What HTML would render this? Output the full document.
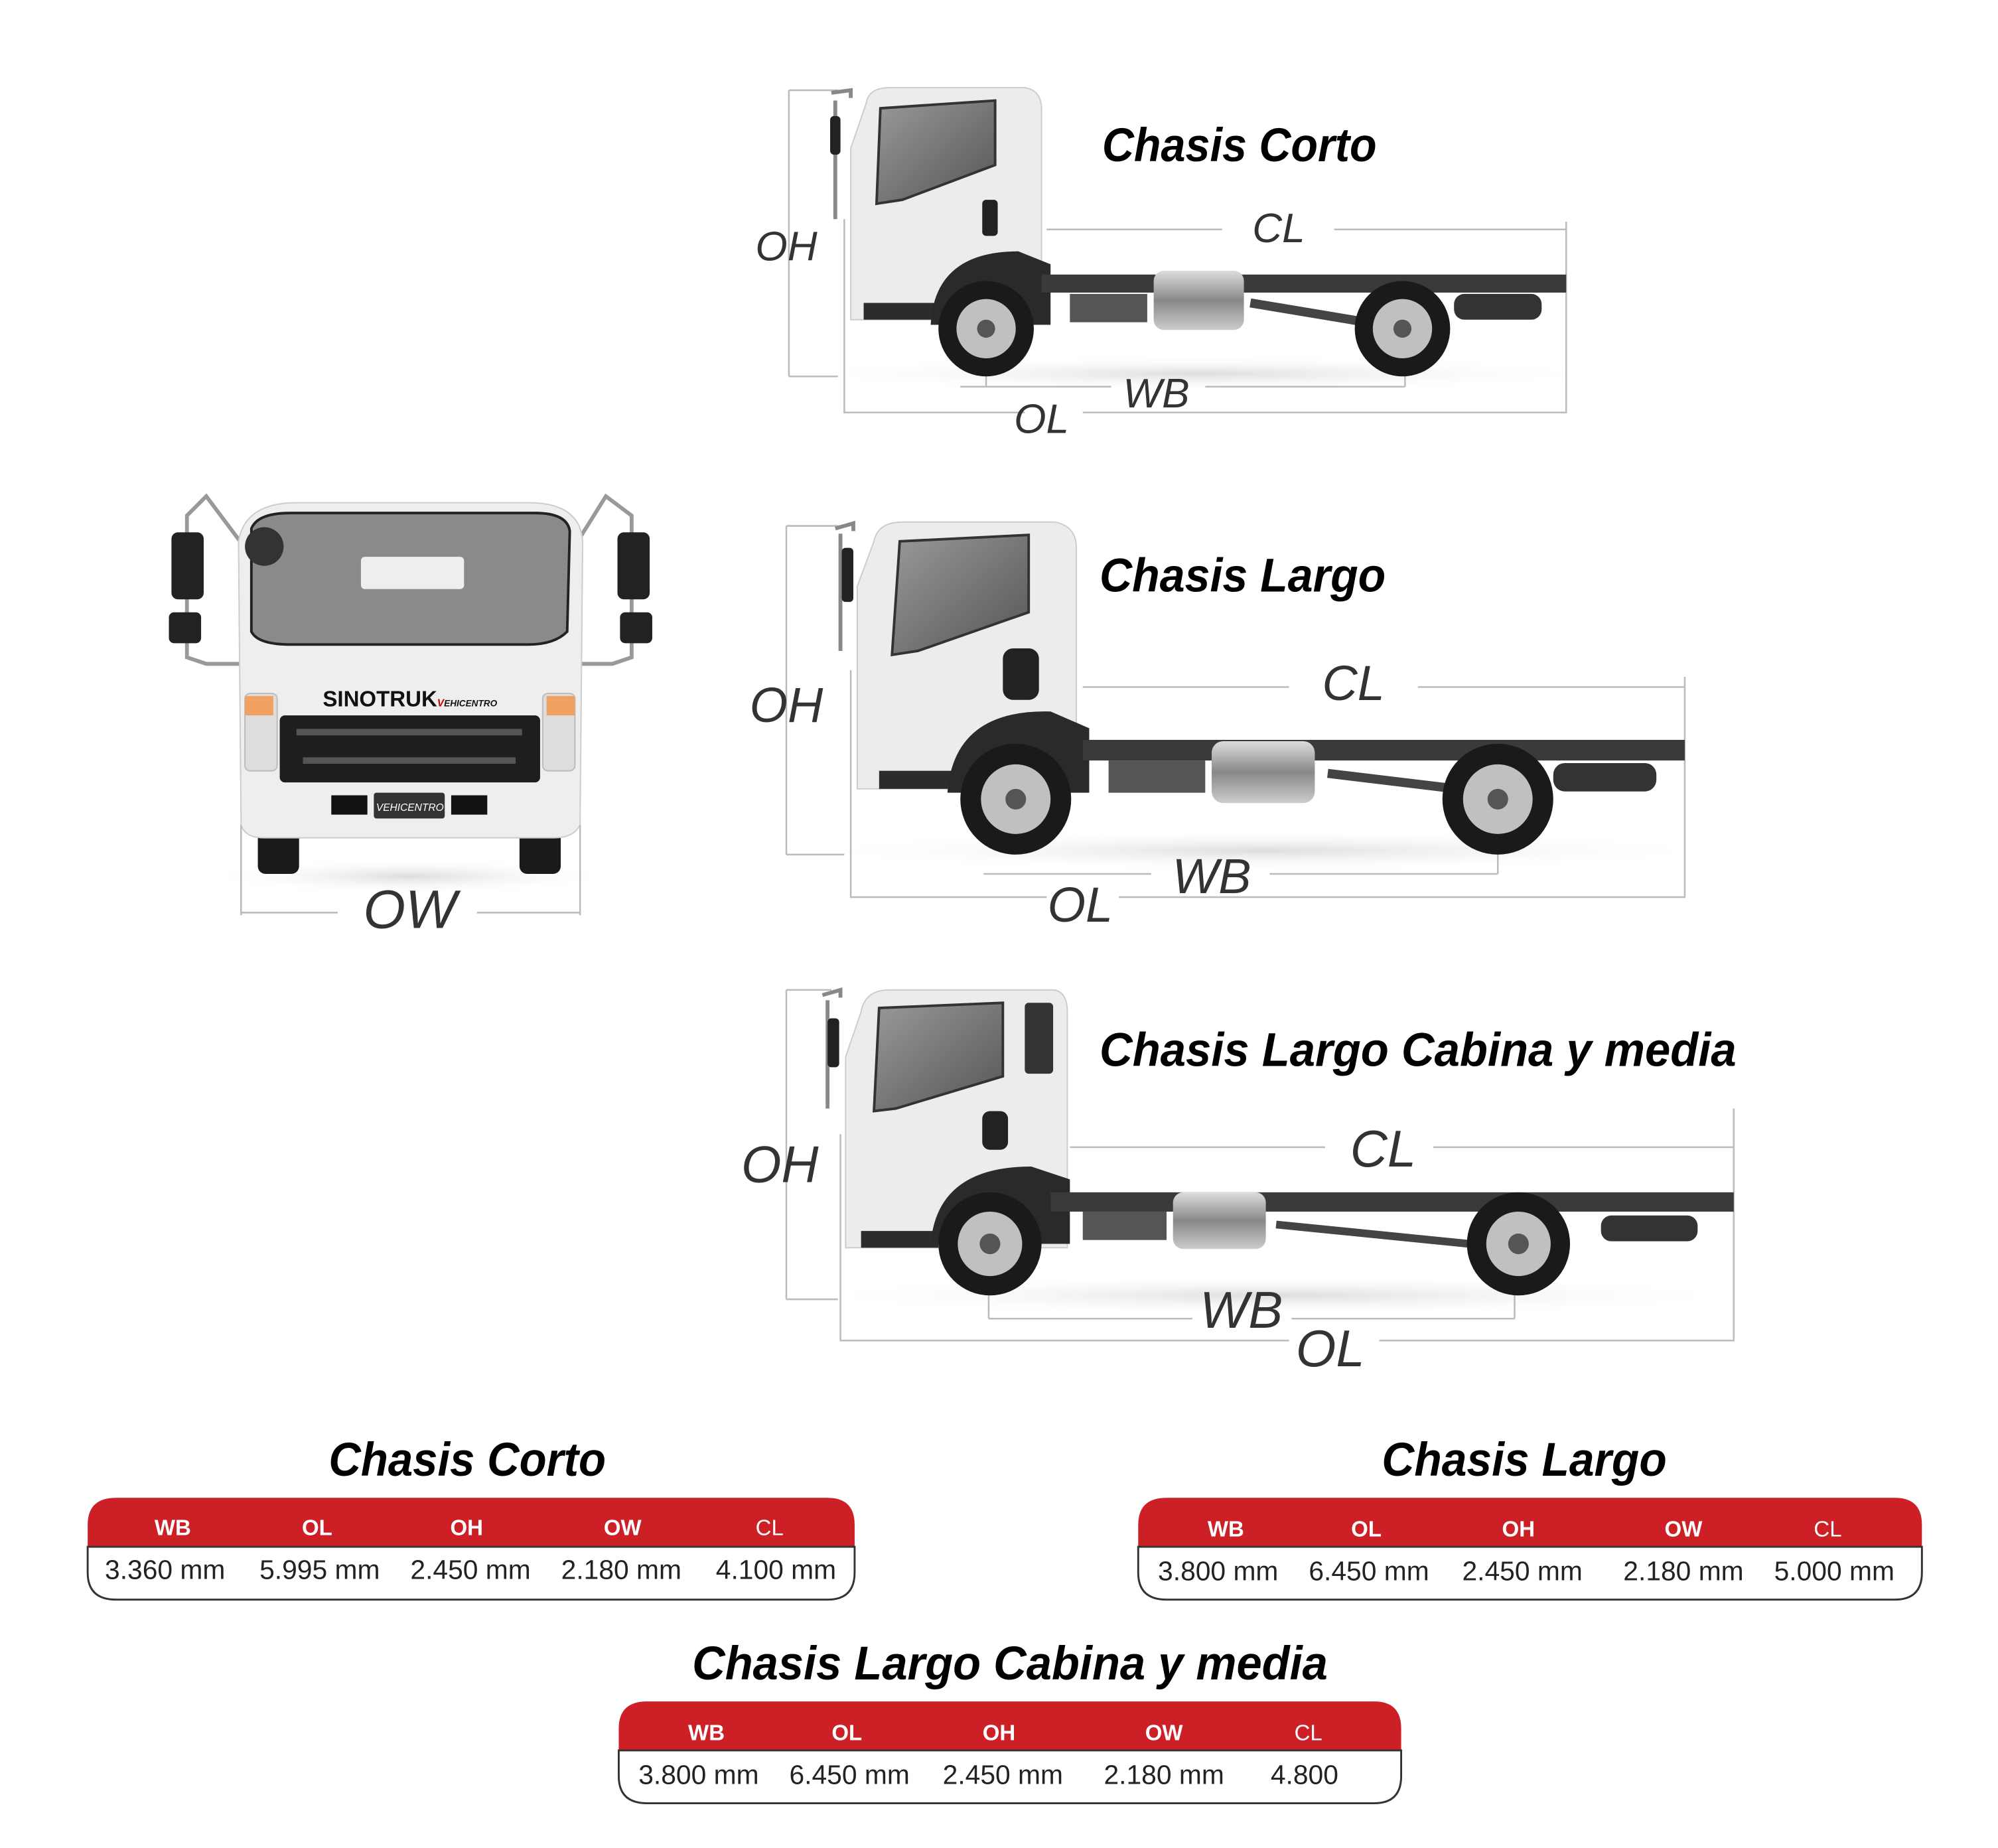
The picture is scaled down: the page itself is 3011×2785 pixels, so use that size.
<!DOCTYPE html>
<html><head><meta charset="utf-8"><style>
html,body{margin:0;padding:0;background:#fff}
svg{display:block}
.t{font-family:"Liberation Sans",sans-serif;font-weight:bold;font-style:italic;fill:#000}
.d{font-family:"Liberation Sans",sans-serif;font-style:italic;fill:#333}
.h{font-family:"Liberation Sans",sans-serif;font-weight:bold;fill:#fff;font-size:17px}
.v{font-family:"Liberation Sans",sans-serif;fill:#222;font-size:21px}
.ln{stroke:#bbb;stroke-width:1.3;fill:none}
</style></head><body>
<svg width="3011" height="2785" viewBox="0 0 1550 1433.7" xmlns="http://www.w3.org/2000/svg">
<defs>
<linearGradient id="win" x1="0" y1="0" x2="1" y2="1"><stop offset="0" stop-color="#999"/><stop offset="1" stop-color="#555"/></linearGradient>
<linearGradient id="tank" x1="0" y1="0" x2="0" y2="1"><stop offset="0" stop-color="#ddd"/><stop offset=".5" stop-color="#888"/><stop offset="1" stop-color="#ccc"/></linearGradient>
<radialGradient id="sh"><stop offset="0" stop-color="#ddd"/><stop offset="1" stop-color="#fff" stop-opacity="0"/></radialGradient>
</defs>

<!-- ===== Truck 1: Chasis Corto ===== -->
<ellipse cx="930" cy="290" rx="320" ry="14" fill="url(#sh)"/>
<path class="ln" d="M612,70 V292 M612,70 H650 M612,292 H650"/>
<path class="ln" d="M655,170 V320 H795 M840,320 H1215 V172"/>
<path class="ln" d="M812,178 H948 M1035,178 H1215"/>
<path class="ln" d="M745,300 H862 M935,300 H1090 M765,285 V300 M1090,285 V300"/>
<path d="M645,72 L660,70 L660,76 M648,78 V170" stroke="#888" stroke-width="3" fill="none"/>
<rect x="644" y="90" width="8" height="30" rx="3" fill="#222"/>
<path d="M660,115 L672,80 Q674,68 690,68 L795,68 Q808,70 808,85 L808,248 L660,248 Z" fill="#ececec" stroke="#ccc"/>
<path d="M683,84 L772,78 L772,128 L700,155 L680,158 Z" fill="url(#win)" stroke="#333" stroke-width="2"/>
<rect x="762" y="155" width="12" height="28" rx="3" fill="#222"/>
<rect x="670" y="235" width="60" height="13" fill="#2c2c2c"/>
<path d="M722,252 Q725,195 790,195 L815,205 L815,252 Z" fill="#2a2a2a"/>
<rect x="808" y="213" width="407" height="14" fill="#3a3a3a"/>
<rect x="1128" y="228" width="68" height="20" rx="8" fill="#333"/>
<path d="M970,235 L1060,250" stroke="#444" stroke-width="7"/>
<rect x="895" y="210" width="70" height="46" rx="8" fill="url(#tank)"/>
<rect x="830" y="228" width="60" height="22" fill="#555"/>
<g><circle cx="765" cy="255" r="37" fill="#1a1a1a"/><circle cx="765" cy="255" r="23" fill="#c0c0c0"/><circle cx="765" cy="255" r="7" fill="#555"/></g>
<g><circle cx="1088" cy="255" r="37" fill="#1a1a1a"/><circle cx="1088" cy="255" r="23" fill="#c0c0c0"/><circle cx="1088" cy="255" r="7" fill="#555"/></g>
<text class="d" x="610" y="202" font-size="32" text-anchor="middle">OH</text>
<text class="d" x="992" y="188" font-size="32" text-anchor="middle">CL</text>
<text class="d" x="897" y="316" font-size="32" text-anchor="middle">WB</text>
<text class="d" x="808" y="336" font-size="32" text-anchor="middle">OL</text>
<text class="t" x="855" y="125" font-size="37" textLength="213" lengthAdjust="spacingAndGlyphs">Chasis Corto</text>

<!-- ===== Truck 2: Chasis Largo ===== -->
<ellipse cx="980" cy="660" rx="360" ry="16" fill="url(#sh)"/>
<path class="ln" d="M610,408 V663 M610,408 H650 M610,663 H655"/>
<path class="ln" d="M660,520 V696 H812 M868,696 H1307 V525"/>
<path class="ln" d="M840,533 H1000 M1100,533 H1307"/>
<path class="ln" d="M763,678 H893 M985,678 H1162 M1162,660 V678"/>
<path d="M648,410 L662,406 L662,412 M652,414 V505" stroke="#888" stroke-width="3" fill="none"/>
<rect x="653" y="425" width="9" height="42" rx="3" fill="#222"/>
<path d="M665,455 L678,420 Q681,405 700,405 L818,405 Q835,408 835,425 L835,612 L665,612 Z" fill="#ececec" stroke="#ccc"/>
<path d="M698,420 L798,415 L798,475 L712,505 L692,508 Z" fill="url(#win)" stroke="#333" stroke-width="2"/>
<rect x="778" y="503" width="28" height="40" rx="8" fill="#222"/>
<rect x="682" y="598" width="70" height="14" fill="#2c2c2c"/>
<path d="M735,615 Q740,550 815,552 L845,565 L845,615 Z" fill="#2a2a2a"/>
<rect x="840" y="574" width="467" height="16" fill="#3a3a3a"/>
<rect x="1205" y="592" width="80" height="22" rx="9" fill="#333"/>
<path d="M1030,600 L1130,612" stroke="#444" stroke-width="7"/>
<rect x="940" y="575" width="80" height="48" rx="9" fill="url(#tank)"/>
<rect x="860" y="590" width="75" height="25" fill="#555"/>
<g><circle cx="788" cy="620" r="43" fill="#1a1a1a"/><circle cx="788" cy="620" r="27" fill="#c0c0c0"/><circle cx="788" cy="620" r="8" fill="#555"/></g>
<g><circle cx="1162" cy="620" r="43" fill="#1a1a1a"/><circle cx="1162" cy="620" r="27" fill="#c0c0c0"/><circle cx="1162" cy="620" r="8" fill="#555"/></g>
<text class="d" x="610" y="560" font-size="38" text-anchor="middle">OH</text>
<text class="d" x="1050" y="543" font-size="38" text-anchor="middle">CL</text>
<text class="d" x="940" y="693" font-size="38" text-anchor="middle">WB</text>
<text class="d" x="838" y="715" font-size="38" text-anchor="middle">OL</text>
<text class="t" x="853" y="459" font-size="37" textLength="222" lengthAdjust="spacingAndGlyphs">Chasis Largo</text>

<!-- ===== Truck 3 ===== -->
<ellipse cx="990" cy="1005" rx="370" ry="16" fill="url(#sh)"/>
<path class="ln" d="M610,768 V1008 M610,768 H645 M610,1008 H650"/>
<path class="ln" d="M652,880 V1040 H1000 M1070,1040 H1345 V860"/>
<path class="ln" d="M830,890 H1028 M1112,890 H1345"/>
<path class="ln" d="M767,1023 H925 M1002,1023 H1175 M767,1005 V1023 M1175,1005 V1023"/>
<path d="M638,772 L652,768 L652,774 M642,776 V860" stroke="#888" stroke-width="3" fill="none"/>
<rect x="642" y="790" width="9" height="38" rx="3" fill="#222"/>
<path d="M656,820 L668,785 Q671,768 690,768 L818,768 Q828,770 828,785 L828,968 L656,968 Z" fill="#ececec" stroke="#ccc"/>
<path d="M682,782 L778,778 L778,835 L695,860 L678,862 Z" fill="url(#win)" stroke="#333" stroke-width="2"/>
<rect x="795" y="778" width="22" height="55" rx="3" fill="#333"/>
<rect x="762" y="862" width="20" height="30" rx="6" fill="#222"/>
<rect x="668" y="955" width="60" height="13" fill="#2c2c2c"/>
<path d="M722,965 Q727,905 800,905 L830,915 L830,965 Z" fill="#2a2a2a"/>
<rect x="815" y="925" width="530" height="15" fill="#3a3a3a"/>
<rect x="1242" y="943" width="75" height="20" rx="8" fill="#333"/>
<path d="M990,950 L1140,965" stroke="#444" stroke-width="6"/>
<rect x="910" y="925" width="72" height="44" rx="8" fill="url(#tank)"/>
<rect x="840" y="940" width="65" height="22" fill="#555"/>
<g><circle cx="768" cy="965" r="40" fill="#1a1a1a"/><circle cx="768" cy="965" r="25" fill="#c0c0c0"/><circle cx="768" cy="965" r="8" fill="#555"/></g>
<g><circle cx="1178" cy="965" r="40" fill="#1a1a1a"/><circle cx="1178" cy="965" r="25" fill="#c0c0c0"/><circle cx="1178" cy="965" r="8" fill="#555"/></g>
<text class="d" x="605" y="917" font-size="40" text-anchor="middle">OH</text>
<text class="d" x="1073" y="905" font-size="40" text-anchor="middle">CL</text>
<text class="d" x="963" y="1030" font-size="40" text-anchor="middle">WB</text>
<text class="d" x="1032" y="1060" font-size="40" text-anchor="middle">OL</text>
<text class="t" x="853" y="827" font-size="37" textLength="494" lengthAdjust="spacingAndGlyphs">Chasis Largo Cabina y media</text>

<!-- ===== Front truck ===== -->
<ellipse cx="318" cy="680" rx="160" ry="14" fill="url(#sh)"/>
<path d="M190,425 L160,385 L145,400 V510 L160,515 L190,515" stroke="#999" stroke-width="3" fill="none"/>
<path d="M445,425 L470,385 L490,400 V510 L475,515 L445,515" stroke="#999" stroke-width="3" fill="none"/>
<rect x="133" y="413" width="25" height="52" rx="5" fill="#222"/>
<rect x="131" y="475" width="25" height="24" rx="4" fill="#222"/>
<rect x="479" y="413" width="25" height="52" rx="5" fill="#222"/>
<rect x="481" y="475" width="25" height="24" rx="4" fill="#222"/>
<rect x="200" y="630" width="32" height="48" rx="6" fill="#1a1a1a"/>
<rect x="403" y="630" width="32" height="48" rx="6" fill="#1a1a1a"/>
<path d="M185,420 Q190,390 230,390 L410,390 Q450,390 452,420 L450,640 Q445,650 430,650 L205,650 Q190,650 187,640 Z" fill="#eee" stroke="#ccc"/>
<path d="M195,410 Q200,398 225,398 L415,398 Q440,398 442,412 L440,490 Q430,500 410,500 L225,500 Q200,500 195,490 Z" fill="#8a8a8a" stroke="#222" stroke-width="2"/>
<rect x="280" y="432" width="80" height="25" rx="3" fill="#eee"/>
<circle cx="205" cy="424" r="15" fill="#333"/>
<rect x="217" y="555" width="202" height="52" rx="4" fill="#1e1e1e"/>
<path d="M230,568 H405 M235,590 H400" stroke="#555" stroke-width="5"/>
<rect x="190" y="538" width="25" height="60" rx="4" fill="#ddd" stroke="#bbb"/>
<rect x="190" y="540" width="22" height="15" fill="#f0a060"/>
<rect x="421" y="538" width="25" height="60" rx="4" fill="#ddd" stroke="#bbb"/>
<rect x="424" y="540" width="22" height="15" fill="#f0a060"/>
<text x="318" y="548" font-family="Liberation Sans,sans-serif" font-weight="bold" font-size="17" text-anchor="middle" fill="#111">SINOTRUK<tspan font-size="8" font-style="italic" fill="#c00">V</tspan><tspan font-size="7" font-style="italic">EHICENTRO</tspan></text>
<rect x="257" y="617" width="28" height="15" fill="#111"/>
<rect x="350" y="617" width="28" height="15" fill="#111"/>
<rect x="290" y="615" width="55" height="20" rx="2" fill="#333"/>
<text x="318" y="629" font-family="Liberation Sans,sans-serif" font-style="italic" font-size="8" text-anchor="middle" fill="#fff">VEHICENTRO</text>
<path class="ln" d="M187,640 V710 M450,640 V710 M187,708 H262 M370,708 H450"/>
<text class="d" x="318" y="720" font-size="42" text-anchor="middle">OW</text>

<!-- ===== Tables ===== -->
<text class="t" x="255" y="1145" font-size="37" textLength="215" lengthAdjust="spacingAndGlyphs">Chasis Corto</text>
<path d="M68,1200 V1183 Q68,1162 90,1162 H642 Q663,1162 663,1183 V1200 Z" fill="#cc1f26"/>
<path d="M68,1200 H663 V1220 Q663,1241 642,1241 H90 Q68,1241 68,1220 Z" fill="#fff" stroke="#333" stroke-width="1.5"/>
<g class="h" text-anchor="middle"><text x="134" y="1191">WB</text><text x="246" y="1191">OL</text><text x="362" y="1191">OH</text><text x="483" y="1191">OW</text><text x="597" y="1191" font-weight="normal">CL</text></g>
<g class="v" text-anchor="middle"><text x="128" y="1225">3.360 mm</text><text x="248" y="1225">5.995 mm</text><text x="365" y="1225">2.450 mm</text><text x="482" y="1225">2.180 mm</text><text x="602" y="1225">4.100 mm</text></g>

<text class="t" x="1072" y="1145" font-size="37" textLength="221" lengthAdjust="spacingAndGlyphs">Chasis Largo</text>
<path d="M883,1200 V1183 Q883,1162 905,1162 H1470 Q1491,1162 1491,1183 V1200 Z" fill="#cc1f26"/>
<path d="M883,1200 H1491 V1220 Q1491,1241 1470,1241 H905 Q883,1241 883,1220 Z" fill="#fff" stroke="#333" stroke-width="1.5"/>
<g class="h" text-anchor="middle"><text x="951" y="1192">WB</text><text x="1060" y="1192">OL</text><text x="1178" y="1192">OH</text><text x="1306" y="1192">OW</text><text x="1418" y="1192" font-weight="normal">CL</text></g>
<g class="v" text-anchor="middle"><text x="945" y="1226">3.800 mm</text><text x="1062" y="1226">6.450 mm</text><text x="1181" y="1226">2.450 mm</text><text x="1306" y="1226">2.180 mm</text><text x="1423" y="1226">5.000 mm</text></g>

<text class="t" x="537" y="1303" font-size="37" textLength="493" lengthAdjust="spacingAndGlyphs">Chasis Largo Cabina y media</text>
<path d="M480,1358 V1341 Q480,1320 502,1320 H1066 Q1087,1320 1087,1341 V1358 Z" fill="#cc1f26"/>
<path d="M480,1358 H1087 V1378 Q1087,1399 1066,1399 H502 Q480,1399 480,1378 Z" fill="#fff" stroke="#333" stroke-width="1.5"/>
<g class="h" text-anchor="middle"><text x="548" y="1350">WB</text><text x="657" y="1350">OL</text><text x="775" y="1350">OH</text><text x="903" y="1350">OW</text><text x="1015" y="1350" font-weight="normal">CL</text></g>
<g class="v" text-anchor="middle"><text x="542" y="1384">3.800 mm</text><text x="659" y="1384">6.450 mm</text><text x="778" y="1384">2.450 mm</text><text x="903" y="1384">2.180 mm</text><text x="1012" y="1384">4.800</text></g>
</svg>
</body></html>
